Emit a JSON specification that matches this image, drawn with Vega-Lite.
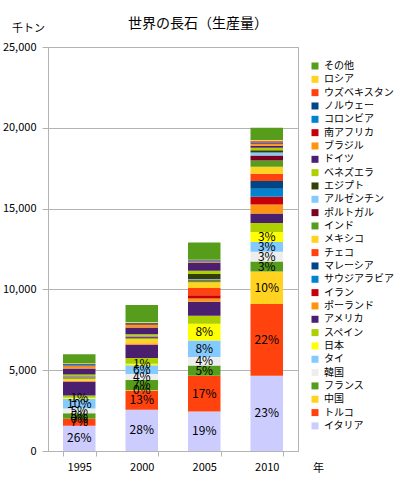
{
  "$schema": "https://vega.github.io/schema/vega-lite/v6.json",
  "width": 250,
  "height": 404,
  "autosize": {"type": "none"},
  "padding": {"left": 48, "top": 47, "right": 101, "bottom": 36},
  "title": {"text": "世界の長石（生産量）", "fontSize": 14, "fontWeight": "normal", "anchor": "middle", "dx": 25, "offset": 0, "dy": 9, "color": "#000000", "font": "Noto Sans CJK JP"},
  "config": {
    "font": "Noto Sans CJK JP",
    "view": {"stroke": "#b3b3b3"},
    "axis": {"labelColor": "#000000", "titleColor": "#000000", "domainColor": "#b3b3b3", "tickColor": "#b3b3b3", "gridColor": "#b3b3b3", "labelFontSize": 11, "titleFontSize": 11, "titleFontWeight": "normal", "labelFont": "Noto Sans CJK JP", "titleFont": "Noto Sans CJK JP"},
    "legend": {"labelFont": "Noto Sans CJK JP", "labelColor": "#000000"}
  },
  "data": {"values": [
    {"y":"1995","c":"イタリア","v":1560,"l":"26%"},
    {"y":"1995","c":"トルコ","v":420,"l":"7%"},
    {"y":"1995","c":"中国","v":20,"l":"0%"},
    {"y":"1995","c":"フランス","v":330,"l":"5%"},
    {"y":"1995","c":"韓国","v":300,"l":"5%"},
    {"y":"1995","c":"タイ","v":600,"l":"10%"},
    {"y":"1995","c":"日本","v":60,"l":"1%"},
    {"y":"1995","c":"スペイン","v":150},
    {"y":"1995","c":"アメリカ","v":850},
    {"y":"1995","c":"ポーランド","v":20},
    {"y":"1995","c":"イラン","v":0},
    {"y":"1995","c":"サウジアラビア","v":0},
    {"y":"1995","c":"マレーシア","v":0},
    {"y":"1995","c":"チェコ","v":40},
    {"y":"1995","c":"メキシコ","v":120},
    {"y":"1995","c":"インド","v":60},
    {"y":"1995","c":"ポルトガル","v":40},
    {"y":"1995","c":"アルゼンチン","v":30},
    {"y":"1995","c":"エジプト","v":20},
    {"y":"1995","c":"ベネズエラ","v":120},
    {"y":"1995","c":"ドイツ","v":360},
    {"y":"1995","c":"ブラジル","v":150},
    {"y":"1995","c":"南アフリカ","v":40},
    {"y":"1995","c":"コロンビア","v":40},
    {"y":"1995","c":"ノルウェー","v":50},
    {"y":"1995","c":"ウズベキスタン","v":20},
    {"y":"1995","c":"ロシア","v":30},
    {"y":"1995","c":"その他","v":560},
    {"y":"2000","c":"イタリア","v":2550,"l":"28%"},
    {"y":"2000","c":"トルコ","v":1180,"l":"13%"},
    {"y":"2000","c":"中国","v":30,"l":"0%"},
    {"y":"2000","c":"フランス","v":640,"l":"7%"},
    {"y":"2000","c":"韓国","v":360,"l":"4%"},
    {"y":"2000","c":"タイ","v":550,"l":"6%"},
    {"y":"2000","c":"日本","v":90,"l":"1%"},
    {"y":"2000","c":"スペイン","v":350},
    {"y":"2000","c":"アメリカ","v":820},
    {"y":"2000","c":"ポーランド","v":40},
    {"y":"2000","c":"イラン","v":0},
    {"y":"2000","c":"サウジアラビア","v":0},
    {"y":"2000","c":"マレーシア","v":0},
    {"y":"2000","c":"チェコ","v":40},
    {"y":"2000","c":"メキシコ","v":300},
    {"y":"2000","c":"インド","v":60},
    {"y":"2000","c":"ポルトガル","v":60},
    {"y":"2000","c":"アルゼンチン","v":30},
    {"y":"2000","c":"エジプト","v":30},
    {"y":"2000","c":"ベネズエラ","v":90},
    {"y":"2000","c":"ドイツ","v":420},
    {"y":"2000","c":"ブラジル","v":160},
    {"y":"2000","c":"南アフリカ","v":40},
    {"y":"2000","c":"コロンビア","v":40},
    {"y":"2000","c":"ノルウェー","v":40},
    {"y":"2000","c":"ウズベキスタン","v":20},
    {"y":"2000","c":"ロシア","v":40},
    {"y":"2000","c":"その他","v":1050},
    {"y":"2005","c":"イタリア","v":2450,"l":"19%"},
    {"y":"2005","c":"トルコ","v":2190,"l":"17%"},
    {"y":"2005","c":"中国","v":10},
    {"y":"2005","c":"フランス","v":645,"l":"5%"},
    {"y":"2005","c":"韓国","v":515,"l":"4%"},
    {"y":"2005","c":"タイ","v":1030,"l":"8%"},
    {"y":"2005","c":"日本","v":1030,"l":"8%"},
    {"y":"2005","c":"スペイン","v":500},
    {"y":"2005","c":"アメリカ","v":870},
    {"y":"2005","c":"ポーランド","v":200},
    {"y":"2005","c":"イラン","v":200},
    {"y":"2005","c":"サウジアラビア","v":0},
    {"y":"2005","c":"マレーシア","v":0},
    {"y":"2005","c":"チェコ","v":440},
    {"y":"2005","c":"メキシコ","v":370},
    {"y":"2005","c":"インド","v":100},
    {"y":"2005","c":"ポルトガル","v":60},
    {"y":"2005","c":"アルゼンチン","v":40},
    {"y":"2005","c":"エジプト","v":310},
    {"y":"2005","c":"ベネズエラ","v":200},
    {"y":"2005","c":"ドイツ","v":500},
    {"y":"2005","c":"ブラジル","v":30},
    {"y":"2005","c":"南アフリカ","v":30},
    {"y":"2005","c":"コロンビア","v":50},
    {"y":"2005","c":"ノルウェー","v":30},
    {"y":"2005","c":"ウズベキスタン","v":20},
    {"y":"2005","c":"ロシア","v":20},
    {"y":"2005","c":"その他","v":1060},
    {"y":"2010","c":"イタリア","v":4650,"l":"23%"},
    {"y":"2010","c":"トルコ","v":4440,"l":"22%"},
    {"y":"2010","c":"中国","v":2020,"l":"10%"},
    {"y":"2010","c":"フランス","v":610,"l":"3%"},
    {"y":"2010","c":"韓国","v":610,"l":"3%"},
    {"y":"2010","c":"タイ","v":610,"l":"3%"},
    {"y":"2010","c":"日本","v":610,"l":"3%"},
    {"y":"2010","c":"スペイン","v":560},
    {"y":"2010","c":"アメリカ","v":580},
    {"y":"2010","c":"ポーランド","v":560},
    {"y":"2010","c":"イラン","v":480},
    {"y":"2010","c":"サウジアラビア","v":500},
    {"y":"2010","c":"マレーシア","v":480},
    {"y":"2010","c":"チェコ","v":450},
    {"y":"2010","c":"メキシコ","v":430},
    {"y":"2010","c":"インド","v":390},
    {"y":"2010","c":"ポルトガル","v":310},
    {"y":"2010","c":"アルゼンチン","v":180},
    {"y":"2010","c":"エジプト","v":140},
    {"y":"2010","c":"ベネズエラ","v":160},
    {"y":"2010","c":"ドイツ","v":120},
    {"y":"2010","c":"ブラジル","v":120},
    {"y":"2010","c":"南アフリカ","v":70},
    {"y":"2010","c":"コロンビア","v":40},
    {"y":"2010","c":"ノルウェー","v":30},
    {"y":"2010","c":"ウズベキスタン","v":50},
    {"y":"2010","c":"ロシア","v":50},
    {"y":"2010","c":"その他","v":750}
  ]},
  "transform": [
    {"calculate": "indexof(['イタリア','トルコ','中国','フランス','韓国','タイ','日本','スペイン','アメリカ','ポーランド','イラン','サウジアラビア','マレーシア','チェコ','メキシコ','インド','ポルトガル','アルゼンチン','エジプト','ベネズエラ','ドイツ','ブラジル','南アフリカ','コロンビア','ノルウェー','ウズベキスタン','ロシア','その他'], datum.c)", "as": "o"},
    {"stack": "v", "groupby": ["y"], "sort": [{"field": "o", "order": "ascending"}], "as": ["v0", "v1"]},
    {"calculate": "(datum.v0 + datum.v1) / 2", "as": "vm"}
  ],
  "encoding": {
    "x": {"field": "y", "type": "nominal", "scale": {"paddingInner": 0.48, "paddingOuter": 0.24},
      "axis": {"title": "年", "titleAngle": 0, "titleX": 270, "titleY": 17, "titleAlign": "center", "titleBaseline": "middle", "labelAngle": 0, "tickBand": "extent", "tickSize": 5, "labelPadding": 5}}
  },
  "layer": [
    {
      "mark": {"type": "bar"},
      "encoding": {
        "y": {"field": "v0", "type": "quantitative", "scale": {"domain": [0, 25000], "nice": false},
          "axis": {"title": "千トン", "titleAngle": 0, "titleX": -20, "titleY": -19, "titleAlign": "center", "titleBaseline": "middle", "values": [0, 5000, 10000, 15000, 20000, 25000], "format": ",.0f", "tickSize": 6, "labelPadding": 6}},
        "y2": {"field": "v1"},
        "color": {"field": "c", "type": "nominal",
          "scale": {
            "domain": ["その他","ロシア","ウズベキスタン","ノルウェー","コロンビア","南アフリカ","ブラジル","ドイツ","ベネズエラ","エジプト","アルゼンチン","ポルトガル","インド","メキシコ","チェコ","マレーシア","サウジアラビア","イラン","ポーランド","アメリカ","スペイン","日本","タイ","韓国","フランス","中国","トルコ","イタリア"],
            "range": ["#579d1c","#ffd320","#ff420e","#004586","#0084d1","#c5000b","#ff950e","#4b1f6f","#aecf00","#314004","#83caff","#7e0021","#579d1c","#ffd320","#ff420e","#004586","#0084d1","#c5000b","#ff950e","#4b1f6f","#aecf00","#ffff00","#83caff","#eeeeee","#579d1c","#ffd320","#ff420e","#ccccff"]
          },
          "legend": {"title": null, "orient": "none", "legendX": 262, "legendY": 14, "symbolType": "square", "symbolSize": 49, "symbolStrokeWidth": 0, "labelFontSize": 10, "rowPadding": 3.33, "labelOffset": 4, "padding": 0, "labelLimit": 200}
        }
      }
    },
    {
      "transform": [{"filter": "datum.l"}],
      "mark": {"type": "text", "fontSize": 12, "color": "#000000", "baseline": "middle", "align": "center"},
      "encoding": {
        "y": {"field": "vm", "type": "quantitative",
          "axis": {"title": "千トン", "titleAngle": 0, "titleX": -20, "titleY": -19, "titleAlign": "center", "titleBaseline": "middle", "values": [0, 5000, 10000, 15000, 20000, 25000], "format": ",.0f", "tickSize": 6, "labelPadding": 6}},
        "text": {"field": "l"}
      }
    }
  ]
}
